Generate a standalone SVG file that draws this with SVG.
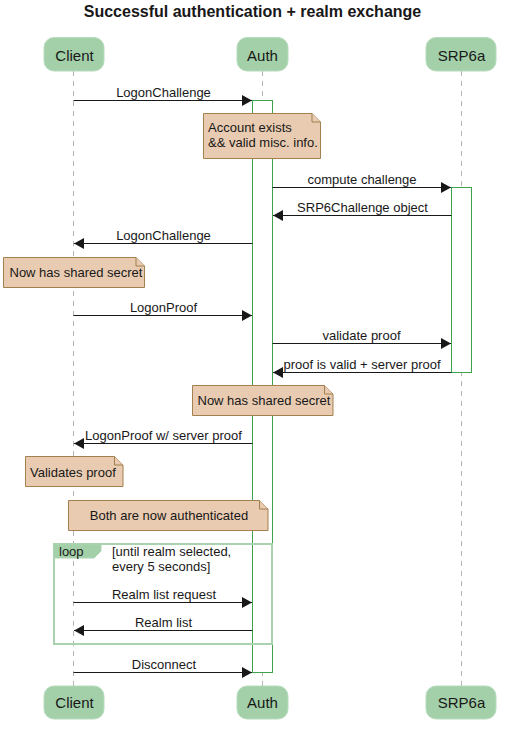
<svg xmlns="http://www.w3.org/2000/svg" width="505" height="737" viewBox="0 0 505 737">
<defs>
<marker id="ah" markerUnits="userSpaceOnUse" viewBox="0 0 10 11" refX="10" refY="5.5" markerWidth="10" markerHeight="11" orient="auto">
<path d="M0,0 L10,5.5 L0,11 z" fill="#181818"/>
</marker>
</defs>
<style>
text{font-family:"Liberation Sans",Arial,sans-serif;fill:#181818}
.title{font-size:16px;font-weight:bold}
.part rect{fill:#a3d0a9;stroke:#b8dcbd;stroke-width:1}
.part text{font-size:15px;text-anchor:middle}
.life{stroke:#b5b5b5;stroke-width:1;stroke-dasharray:5,5}
.act{fill:#ffffff;stroke:#3ea34a;stroke-width:1}
.msg line{stroke:#181818;stroke-width:1;marker-end:url(#ah)}
.msg text{font-size:13px;text-anchor:middle}
.note path{fill:#e9cbb1;stroke:#a2804f;stroke-width:1}
.note text{font-size:13px}
.loop .frame{fill:none;stroke:#a9d3af;stroke-width:2}
.loop .tab{fill:#a3d0a9;stroke:#a9d3af;stroke-width:1}
.loop text{font-size:13px}
</style>
<rect width="505" height="737" fill="#ffffff"/>
<text class="title" x="252.5" y="17" text-anchor="middle">Successful authentication + realm exchange</text>

<g id="lifelines">
<line class="life" x1="73.5" y1="71" x2="73.5" y2="686"/>
<line class="life" x1="262.5" y1="71" x2="262.5" y2="686"/>
<line class="life" x1="461.5" y1="71" x2="461.5" y2="686"/>
</g>

<g id="activations">
<rect class="act" x="252.5" y="100.5" width="20" height="572"/>
<rect class="act" x="451.5" y="187.5" width="20" height="185"/>
</g>

<g id="participant-client-top" class="part"><rect x="44" y="37.5" width="60" height="33.5" rx="10"/><text x="74.5" y="61">Client</text></g>
<g id="participant-auth-top" class="part"><rect x="237" y="37.5" width="51" height="33.5" rx="10"/><text x="262.5" y="61">Auth</text></g>
<g id="participant-srp6a-top" class="part"><rect x="426" y="37.5" width="70" height="33.5" rx="10"/><text x="461.5" y="61">SRP6a</text></g>

<g id="participant-client-bottom" class="part"><rect x="44" y="686" width="60" height="33" rx="10"/><text x="74.5" y="708">Client</text></g>
<g id="participant-auth-bottom" class="part"><rect x="237" y="686" width="51" height="33" rx="10"/><text x="262.5" y="708">Auth</text></g>
<g id="participant-srp6a-bottom" class="part"><rect x="426" y="686" width="70" height="33" rx="10"/><text x="461.5" y="708">SRP6a</text></g>

<g id="loop-frame" class="loop">
<rect class="frame" x="54" y="544" width="218" height="100"/>
<path class="tab" d="M54,544 H101 V551 L94,558 H54 Z"/>
<text x="59" y="555.5">loop</text>
<text x="112" y="555.5">[until realm selected,</text>
<text x="112" y="571">every 5 seconds]</text>
</g>

<g id="connectors" class="msg">
<line x1="73.5" y1="100.5" x2="252" y2="100.5"/>
<text x="163.5" y="96.5">LogonChallenge</text>
<line x1="272.5" y1="187.5" x2="451" y2="187.5"/>
<text x="362" y="183.5">compute challenge</text>
<line x1="451.5" y1="215.5" x2="273" y2="215.5"/>
<text x="362.5" y="211.5">SRP6Challenge object</text>
<line x1="252.5" y1="243.5" x2="74" y2="243.5"/>
<text x="163.5" y="240">LogonChallenge</text>
<line x1="73.5" y1="315.5" x2="252" y2="315.5"/>
<text x="163.5" y="311.5">LogonProof</text>
<line x1="272.5" y1="343.5" x2="451" y2="343.5"/>
<text x="361.5" y="339.5">validate proof</text>
<line x1="451.5" y1="372.5" x2="273" y2="372.5"/>
<text x="362" y="368.5">proof is valid + server proof</text>
<line x1="252.5" y1="443.5" x2="74" y2="443.5"/>
<text x="163.5" y="440">LogonProof w/ server proof</text>
<line x1="73.5" y1="602.5" x2="252" y2="602.5"/>
<text x="164" y="598.5">Realm list request</text>
<line x1="252.5" y1="630.5" x2="74" y2="630.5"/>
<text x="163.5" y="626.5">Realm list</text>
<line x1="73.5" y1="672.5" x2="252" y2="672.5"/>
<text x="164" y="668.5">Disconnect</text>
</g>

<g id="note-account" class="note">
<path d="M203.5,113.5 H312 L320.5,122 V158.5 H203.5 Z"/>
<path d="M312,113.5 V122 H320.5" fill="none"/>
<text x="208" y="132">Account exists</text>
<text x="208" y="147">&amp;&amp; valid misc. info.</text>
</g>

<g id="note-client-secret" class="note">
<path d="M3.5,257.5 H136 L144.5,266 V287.5 H3.5 Z"/>
<path d="M136,257.5 V266 H144.5" fill="none"/>
<text x="9.5" y="276.5">Now has shared secret</text>
</g>

<g id="note-auth-secret" class="note">
<path d="M192.5,385.5 H324.5 L333,394 V415.5 H192.5 Z"/>
<path d="M324.5,385.5 V394 H333" fill="none"/>
<text x="197.5" y="404.5">Now has shared secret</text>
</g>

<g id="note-validates" class="note">
<path d="M25.5,456.5 H114.5 L123,465 V486.5 H25.5 Z"/>
<path d="M114.5,456.5 V465 H123" fill="none"/>
<text x="30" y="477">Validates proof</text>
</g>

<g id="note-both" class="note">
<path d="M68.5,500.5 H259.5 L268,509 V530.5 H68.5 Z"/>
<path d="M259.5,500.5 V509 H268" fill="none"/>
<text x="169" y="519.5" text-anchor="middle">Both are now authenticated</text>
</g>
</svg>
